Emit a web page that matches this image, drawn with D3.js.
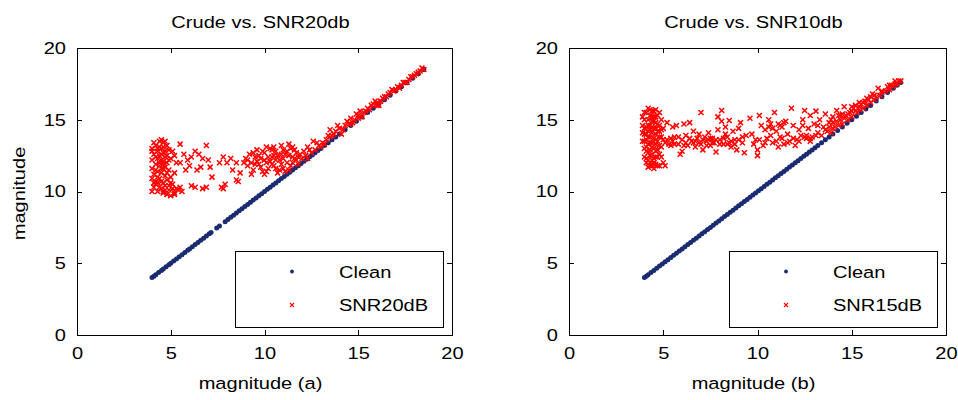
<!DOCTYPE html>
<html>
<head>
<meta charset="utf-8">
<script src="https://cdn.jsdelivr.net/npm/d3@7"></script>
<style>
  body { margin: 0; background: #fff; }
  text { font-family: "Liberation Sans", Arial, sans-serif; }
</style>
</head>
<body>
<div id="plot"></div>
<script>
//Set Height and Width Vars;
const w = 958;
const h = 400;
const stretch = 1.18;
const fontSize = 17;

//Axis ticks;
const tickValues = [0, 5, 10, 15, 20];

//Titles and labels;
const titles = ["Crude vs. SNR20db", "Crude vs. SNR10db"];
const xLabels = ["magnitude (a)", "magnitude (b)"];
const yLabel = "magnitude";
const legendNames = [["Clean", "SNR20dB"], ["Clean", "SNR15dB"]];

//Clean magnitudes (plotted against themselves);
const cleanA = [4.0,4.1,4.2,4.35,4.5,4.6,4.75,4.9,5.0,5.15,5.3,5.45,5.6,5.75,5.9,6.0,6.15,6.3,6.45,6.6,6.75,6.9,7.05,7.15,7.45,7.6,7.9,8.05,8.2,8.35,8.5,8.65,8.8,8.95,9.1,9.25,9.4,9.55,9.7,9.85,10.0,10.15,10.3,10.45,10.6,10.75,10.9,11.05,11.2,11.35,11.5,11.65,11.8,11.95,12.1,12.25,12.4,12.55,12.7,12.85,13.0,13.2,13.4,13.6,13.8,14.0,14.3,14.6,14.9,15.2,15.5,15.8,16.1,16.4,16.7,17.0,17.3,17.6,17.9,18.2,18.5];

const cleanB = [4.0,4.1,4.2,4.35,4.5,4.65,4.8,4.95,5.1,5.25,5.4,5.55,5.7,5.85,6.0,6.15,6.3,6.45,6.6,6.75,6.9,7.05,7.2,7.35,7.5,7.65,7.8,7.95,8.1,8.25,8.4,8.55,8.7,8.85,9.0,9.15,9.3,9.45,9.6,9.75,9.9,10.05,10.2,10.35,10.5,10.65,10.8,10.95,11.1,11.25,11.4,11.55,11.7,11.85,12.0,12.15,12.3,12.45,12.6,12.75,12.9,13.05,13.2,13.4,13.6,13.8,14.0,14.25,14.5,14.75,15.0,15.25,15.5,15.75,16.0,16.3,16.6,16.9,17.2,17.4,17.6];

//Noisy magnitudes, SNR20dB [clean, noisy];
const snr20 = [
  [4.0,13.0],[4.1,12.6],[4.0,12.2],[4.2,13.2],[4.3,12.8],[4.4,13.5],[4.5,13.6],[4.6,13.4],[4.7,13.5],[4.8,13.2],
  [4.5,13.0],[4.6,12.7],[4.3,12.3],[4.5,12.2],[4.7,12.4],[4.8,12.0],[4.4,11.8],[4.6,11.6],[4.2,11.9],[4.0,11.6],
  [4.1,11.2],[4.3,11.4],[4.5,11.3],[4.7,11.1],[4.9,11.5],[4.0,10.9],[4.2,10.7],[4.4,10.9],[4.6,10.6],[4.8,10.8],
  [4.1,10.3],[4.3,10.0],[4.5,10.2],[4.7,10.4],[4.9,10.1],[5.0,10.6],[5.1,10.2],[5.2,9.9],[5.4,10.1],[5.5,10.3],
  [5.0,11.0],[5.2,11.3],[5.0,12.3],[5.1,12.8],[4.9,12.9],[5.3,12.0],[4.0,10.0],[4.8,9.8],[5.0,9.7],[4.4,12.5],
  [4.2,10.5],[4.6,10.0],[4.4,13.1],[4.6,12.1],[4.3,11.0],
  [4.1,13.4],[4.2,12.4],[4.3,13.0],[4.5,12.6],[4.6,13.1],[4.7,12.8],[4.8,12.5],[4.4,12.0],[4.6,11.9],[4.2,11.5],
  [4.5,11.6],[4.7,11.7],[4.3,10.6],[4.5,10.7],[4.7,10.1],[4.9,10.4],[5.1,10.5],[5.3,10.2],[4.4,10.3],[4.1,10.6],
  [4.8,11.3],[4.0,12.8],[4.9,12.2],[5.2,9.8],[5.6,10.0],[4.6,9.9],
  [5.5,13.3],[5.2,12.5],[5.5,12.0],[5.7,12.6],[5.9,12.2],[6.1,12.4],[6.0,11.8],[6.3,12.8],[6.5,12.6],[6.7,12.3],
  [6.9,13.2],[6.6,11.7],[7.1,11.7],[7.0,12.2],[6.4,11.5],[5.8,11.5],[6.1,10.4],[6.3,10.3],[6.7,10.2],[6.9,10.3],
  [7.2,11.0],[7.7,10.3],[7.8,10.2],[7.9,10.5],[8.5,10.8],[8.6,10.7],[7.8,12.4],[8.0,12.0],[8.3,11.5],[8.2,12.3],
  [8.5,12.0],[7.6,12.0],[8.7,11.3],
  [9.0,12.3],[9.1,11.8],[9.2,12.6],[9.3,12.0],[9.4,11.5],[9.5,12.4],[9.6,12.9],[9.7,11.9],[9.8,12.3],[9.9,11.4],
  [10.0,12.7],[10.1,12.0],[10.2,11.6],[10.3,13.0],[10.4,12.4],[10.5,11.8],[10.6,12.8],[10.7,11.3],[10.8,12.2],[10.9,13.2],
  [11.0,11.6],[11.1,12.6],[11.2,12.0],[11.3,13.3],[11.4,11.8],[11.5,12.4],[11.6,12.9],[11.7,12.2],[11.8,11.9],[11.9,12.6],
  [12.0,12.3],[10.0,11.2],[10.5,13.1],[11.0,12.9],[10.2,12.4],[9.9,12.8],[10.8,11.5],[11.4,13.0],[9.3,11.2],[8.9,12.0],
  [10.6,12.2],[11.1,11.4],[10.4,11.9],[11.6,12.3],[9.6,12.1],
  [9.1,12.2],[9.4,12.7],[9.7,12.5],[10.0,12.2],[10.1,11.4],[10.3,12.1],[10.4,12.9],[10.6,11.6],[10.7,12.5],[10.9,11.9],
  [11.0,12.3],[11.2,12.8],[11.3,11.5],[11.5,12.0],[11.7,12.7],[11.8,12.4],[11.3,12.5],[10.5,12.5],[9.8,11.7],[10.9,12.6],
  [11.5,13.1],[10.1,13.1],[9.5,11.9],[12.1,12.8],[12.3,13.1],
  [12.2,12.5],[12.4,12.9],[12.6,13.5],[12.7,12.9],[12.9,13.2],[13.1,13.4],[13.3,13.6],[13.5,14.3],[13.6,13.9],[13.8,14.2],
  [14.0,14.4],[14.1,14.0],[14.3,14.6],[14.5,14.7],[14.6,15.1],[14.8,15.0],[15.0,15.3],[15.1,15.6],[15.3,15.5],[15.5,15.8],
  [15.6,15.7],[15.8,16.1],[16.0,16.2],[16.1,16.0],[16.3,16.5],[16.5,16.6],[16.7,16.9],[16.9,17.0],[17.1,17.3],[17.3,17.4],
  [17.5,17.6],[17.7,17.8],[17.9,18.0],[18.1,18.2],[18.3,18.4],[18.5,18.5],[15.2,15.2],[16.2,16.3],[17.2,17.2],[18.0,18.1],
  [13.0,13.1],[14.2,14.3],[12.3,12.3],[13.9,14.6],[14.9,15.4],[15.9,16.3],[16.6,16.8],[17.6,17.6],[18.4,18.6],
  [12.5,12.7],[12.8,13.4],[13.2,13.3],[13.4,13.9],[13.7,14.0],[14.4,14.9],[14.7,14.8],[15.4,15.6],[15.7,16.0],[16.4,16.6],
  [16.8,17.1],[17.0,17.1],[17.4,17.6],[17.8,18.0],[18.2,18.3],[13.5,13.8],[14.6,14.7],[15.0,15.1],[16.0,16.0]
];

//Noisy magnitudes, SNR15dB [clean, noisy];
const snr15 = [
  [3.9,14.6],[3.9,13.5],[4.0,15.0],[4.0,14.0],[4.0,13.0],[4.0,12.4],[4.1,15.5],[4.1,14.5],[4.1,13.6],[4.1,12.8],
  [4.2,15.8],[4.2,15.0],[4.2,14.2],[4.2,13.3],[4.2,12.2],[4.3,15.3],[4.3,14.6],[4.3,13.8],[4.3,12.9],[4.3,12.0],
  [4.4,15.6],[4.4,14.9],[4.4,14.1],[4.4,13.4],[4.4,12.6],[4.4,11.8],[4.5,15.2],[4.5,14.4],[4.5,13.7],[4.5,13.0],
  [4.5,12.3],[4.6,15.7],[4.6,14.8],[4.6,14.0],[4.6,12.8],[4.6,11.9],[4.7,15.3],[4.7,13.5],[4.7,12.4],[4.8,14.6],
  [4.8,13.2],[4.8,11.8],[4.9,15.0],[4.9,13.8],[5.0,14.4],[5.1,13.4],[5.1,11.8],[5.2,14.8],[4.2,11.7],[4.5,11.6],
  [4.3,14.3],[4.4,13.1],[4.6,13.3],[4.3,12.5],[4.7,14.2],
  [3.9,14.1],[3.9,15.2],[4.0,15.5],[4.0,13.5],[4.1,14.0],[4.1,13.1],[4.1,12.3],[4.2,14.6],[4.2,12.7],[4.3,15.7],
  [4.3,13.4],[4.4,14.5],[4.4,12.2],[4.5,15.6],[4.5,14.9],[4.5,12.0],[4.6,14.4],[4.6,13.6],[4.6,12.4],[4.7,14.7],
  [4.7,12.9],[4.7,11.8],[4.8,15.5],[4.8,13.8],[4.8,12.6],[4.9,14.3],[4.9,13.1],[5.0,12.0],[5.0,13.6],[4.3,11.8],
  [4.5,11.9],[4.0,14.4],[4.2,13.8],[4.4,15.2],[4.6,15.2],[4.8,14.2],[4.1,12.0],[4.9,12.4],
  [5.2,13.6],[5.4,13.2],[5.5,14.5],[5.6,13.8],[5.8,13.3],[5.9,12.6],[6.0,13.6],[6.0,12.8],[6.2,13.9],[6.3,13.2],
  [6.4,14.8],[6.5,13.5],[6.6,14.2],[6.7,13.1],[6.8,13.7],[6.9,14.0],[7.0,15.5],[7.0,13.3],[7.1,12.9],[7.2,13.8],
  [7.3,13.5],[7.4,14.1],[7.5,13.2],[7.6,13.7],[7.7,13.4],[7.8,12.75],[7.9,15.2],[7.9,14.3],[8.0,13.6],[8.1,15.65],
  [8.1,14.9],[8.2,13.3],[8.3,14.5],[8.4,13.8],[8.5,14.95],[8.6,13.1],[8.7,14.2],[8.8,13.6],[8.9,12.9],[9.0,14.4],
  [9.1,14.8],[9.2,13.4],[9.3,12.7],[9.4,13.9],[5.7,14.6],[6.1,14.7],[5.3,13.3],[6.6,13.4],[7.4,13.6],[8.5,13.4],
  [5.4,13.7],[5.6,13.3],[5.8,13.8],[6.2,13.4],[6.4,13.7],[6.7,13.5],[6.9,13.4],[7.1,13.6],[7.3,13.2],[7.6,13.4],
  [7.8,13.6],[8.0,13.3],[8.2,13.7],[8.4,13.3],[8.6,13.5],[8.8,13.3],[9.0,13.6],[9.2,13.8],[5.5,13.5],[6.1,13.2],
  [7.5,13.7],[8.3,14.0],
  [9.6,15.1],[9.7,14.0],[9.8,13.3],[9.9,13.6],[10.0,12.9],[10.0,12.5],[10.1,15.3],[10.2,14.6],[10.3,13.2],[10.4,14.3],
  [10.5,13.7],[10.6,15.0],[10.7,14.7],[10.8,13.4],[10.9,15.5],[11.0,14.2],[11.1,14.7],[11.1,13.1],[11.2,13.8],[11.3,14.5],
  [11.4,13.3],[11.5,14.9],[11.6,14.0],[11.7,13.5],[11.8,15.8],[11.9,14.6],[12.0,13.2],[12.1,13.6],[12.2,14.3],[12.3,13.9],
  [12.4,15.0],[12.5,15.65],[12.6,13.7],[12.7,14.4],[12.8,15.3],[12.9,13.8],[13.0,14.7],[13.1,15.6],[13.2,14.1],[13.3,15.0],
  [13.4,13.9],[13.5,14.5],[10.6,14.5],[11.2,14.6],[12.6,13.9],[12.8,13.7],
  [10.1,13.6],[10.4,13.4],[10.7,13.9],[11.0,13.5],[11.3,13.7],[11.6,13.4],[11.9,13.7],[12.2,13.5],[12.5,13.8],[12.8,13.5],
  [13.1,13.9],[11.4,14.8],[10.8,14.4],[12.4,14.6],[13.2,14.6],
  [13.6,15.4],[13.7,14.2],[13.8,14.8],[13.9,14.1],[14.0,15.2],[14.1,14.5],[14.2,15.65],[14.3,14.6],[14.4,15.0],[14.5,14.7],
  [14.6,15.9],[14.7,15.3],[14.8,15.0],[14.9,15.5],[15.0,15.2],[15.1,15.8],[15.2,16.0],[15.3,15.5],[15.4,15.7],[15.5,16.1],
  [15.6,15.8],[15.7,16.3],[15.8,16.0],[15.9,16.4],[16.0,16.2],[16.1,16.8],[16.2,16.4],[16.3,16.6],[16.4,17.2],[16.5,16.7],
  [16.6,16.9],[16.8,17.0],[16.9,17.3],[17.0,17.1],[17.1,17.4],[17.2,17.3],[17.3,17.5],[17.4,17.5],[17.5,17.7],[17.6,17.7],
  [15.0,15.6],[14.5,15.4],[16.0,16.6],[14.0,14.4],[15.4,16.2],
  [13.6,14.3],[13.8,14.5],[14.0,14.8],[14.2,14.9],[14.4,15.3],[14.6,15.1],[14.8,15.4],[15.0,15.9],[15.2,15.6],[15.4,15.9],
  [15.6,16.2],[15.8,16.5],[16.2,16.7],[16.6,17.0],[17.0,17.4],[17.3,17.7],[13.9,15.0],[14.3,15.3]
];

//Define colors;
const cleanColor = "#1a2b72";
const noisyColor = "#ff0000";

//Marker shapes;
const xMark = "M-2.5,-2.5L2.5,2.5M-2.5,2.5L2.5,-2.5";
const cleanR = 2.5;

//Panel layout;
const panels = [
  {left: 77, right: 452, top: 48, bottom: 335, clean: cleanA, noisy: snr20},
  {left: 569, right: 946, top: 48, bottom: 335, clean: cleanB, noisy: snr15}
];

//Initialize SVG;
const svg = d3.select("#plot")
  .append("svg")
    .attr("width", w)
    .attr("height", h);

//Stretched text helper;
function addText(g, x, y, str, anchor, rotate) {
  return g.append("text")
    .attr("transform", "translate(" + x + "," + y + ")" + (rotate ? " rotate(" + rotate + ")" : "") + " scale(" + stretch + ",1)")
    .attr("text-anchor", anchor)
    .attr("font-size", fontSize)
    .attr("fill", "#000")
    .text(str);
}

function stretchTicks(axisG) {
  axisG.selectAll(".tick text").each(function() {
    const t = d3.select(this);
    const x = +t.attr("x") || 0;
    const y = +t.attr("y") || 0;
    t.attr("x", 0).attr("y", 0)
     .attr("transform", "translate(" + x + "," + y + ") scale(" + stretch + ",1)");
  });
}

panels.forEach(function(p, i) {
  const g = svg.append("g");

  //Set Scales;
  const xScale = d3.scaleLinear().domain([0, 20]).range([p.left, p.right]);
  const yScale = d3.scaleLinear().domain([0, 20]).range([p.bottom, p.top]);

  //Clean points;
  g.append("g")
    .selectAll("circle")
    .data(p.clean)
    .enter()
    .append("circle")
      .attr("cx", function(d) { return xScale(d); })
      .attr("cy", function(d) { return yScale(d); })
      .attr("r", cleanR)
      .attr("fill", cleanColor);

  //Noisy points;
  g.append("g")
    .selectAll("path")
    .data(p.noisy)
    .enter()
    .append("path")
      .attr("transform", function(d) { return "translate(" + xScale(d[0]) + "," + yScale(d[1]) + ")"; })
      .attr("d", xMark)
      .attr("stroke", noisyColor)
      .attr("stroke-width", 1.5)
      .attr("fill", "none");

  //Axes;
  const xAxis = g.append("g")
    .attr("transform", "translate(0," + p.bottom + ")")
    .call(d3.axisBottom(xScale).tickValues(tickValues).tickSizeInner(-5).tickSizeOuter(0).tickPadding(12));
  const yAxis = g.append("g")
    .attr("transform", "translate(" + p.left + ",0)")
    .call(d3.axisLeft(yScale).tickValues(tickValues).tickSizeInner(-5).tickSizeOuter(0).tickPadding(11));
  g.append("g")
    .attr("transform", "translate(0," + p.top + ")")
    .call(d3.axisTop(xScale).tickValues(tickValues).tickSizeInner(-5).tickSizeOuter(0).tickFormat(""));
  g.append("g")
    .attr("transform", "translate(" + p.right + ",0)")
    .call(d3.axisRight(yScale).tickValues(tickValues).tickSizeInner(-5).tickSizeOuter(0).tickFormat(""));

  g.selectAll(".tick text")
    .attr("font-size", fontSize)
    .attr("font-family", "Liberation Sans, Arial, sans-serif")
    .attr("fill", "#000");
  stretchTicks(xAxis);
  stretchTicks(yAxis);
  g.selectAll(".domain, .tick line").attr("shape-rendering", "crispEdges");

  //Title and labels;
  const cx = (p.left + p.right) / 2 - 4;
  addText(g, cx, 27.5, titles[i], "middle");
  addText(g, cx, 389, xLabels[i], "middle");
  if (i === 0) {
    addText(g, 25, (p.top + p.bottom) / 2 + 2, yLabel, "middle", -90);
  }

  //Legend;
  const lw = 208, lh = 76;
  const lx = p.right - 9 - lw;
  const ly = p.bottom - 8.5 - lh;
  const leg = g.append("g").attr("transform", "translate(" + lx + "," + ly + ")");
  leg.append("rect")
    .attr("x", 0.5).attr("y", 0.5)
    .attr("width", lw).attr("height", lh)
    .attr("fill", "#fff")
    .attr("stroke", "#000")
    .attr("shape-rendering", "crispEdges");
  leg.append("circle")
    .attr("cx", 57).attr("cy", 21)
    .attr("r", 1.9)
    .attr("fill", cleanColor);
  leg.append("path")
    .attr("transform", "translate(57,54.5)")
    .attr("d", "M-2,-2L2,2M-2,2L2,-2")
    .attr("stroke", noisyColor)
    .attr("stroke-width", 1.1);
  addText(leg, 104, 27, legendNames[i][0], "start");
  addText(leg, 104, 60.5, legendNames[i][1], "start");
});
</script>
</body>
</html>
